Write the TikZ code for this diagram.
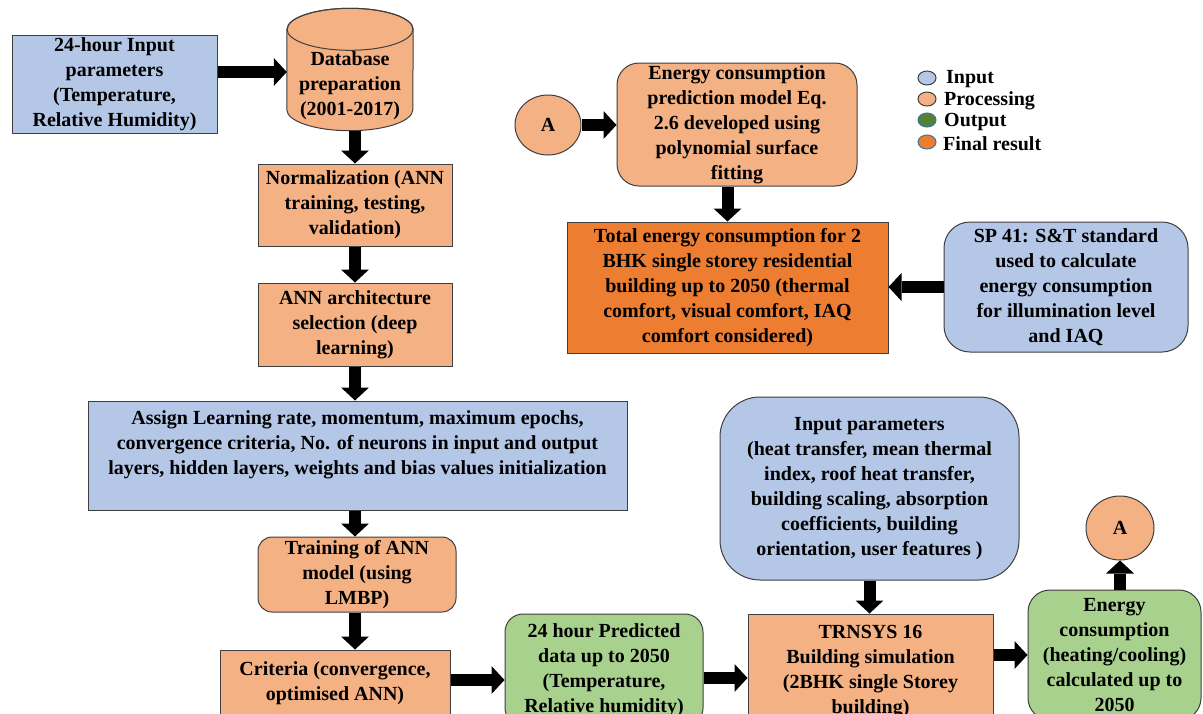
\documentclass[tikz,border=0pt]{standalone}
\usepackage{fontspec}
\setmainfont{Liberation Serif}
\usetikzlibrary{arrows.meta,shapes.geometric}
\definecolor{inblue}{HTML}{B4C7E7}
\definecolor{procpeach}{HTML}{F4B183}
\definecolor{outgreen}{HTML}{A9D18E}
\definecolor{outdark}{HTML}{548235}
\definecolor{finalorange}{HTML}{ED7D31}
\definecolor{edgegray}{HTML}{3F3F3F}
\definecolor{dotedge}{HTML}{41719C}

\begin{document}
\begin{tikzpicture}[x=1pt,y=1pt,
  box/.style={draw=edgegray, line width=1pt, inner sep=0pt, align=center,
    font=\bfseries\fontsize{20}{25}\selectfont},
  inbox/.style={box, fill=inblue},
  procbox/.style={box, fill=procpeach},
  outbox/.style={box, fill=outgreen},
  finbox/.style={box, fill=finalorange},
  connector/.style={ellipse, box, fill=procpeach},
  bigarrow/.style={line width=12pt, -{Triangle[width=28pt,length=13pt,line width=0pt]}},
  legdot/.style={ellipse, draw=edgegray, line width=1pt, minimum width=18pt, minimum height=14pt, inner sep=0pt},
  legtext/.style={anchor=west, inner sep=0pt, font=\bfseries\fontsize{20}{22}\selectfont}
]
\useasboundingbox (0,0) rectangle (1203,-713);
\fill[white] (0,0) rectangle (1203,-713);
\clip (0,0) rectangle (1203,-713);

% ---------- left column: data preparation and ANN ----------
\node[inbox, minimum width=205pt, minimum height=98pt] (inp) at (114.5,-84)
  {24-hour Input\\parameters\\(Temperature,\\Relative Humidity)};

% database drawn as a cylinder around an empty frame node
\node[minimum width=126pt, minimum height=122pt, inner sep=0pt] (db) at (350,-69.5) {};
\filldraw[fill=procpeach, draw=edgegray, line width=1pt]
  (db.north west) ++(0,-21) -- ([yshift=21pt]db.south west)
  arc[start angle=180, end angle=360, x radius=63pt, y radius=21pt]
  -- ([yshift=-21pt]db.north east)
  arc[start angle=0, end angle=180, x radius=63pt, y radius=21pt] -- cycle;
\draw[edgegray, line width=1pt] ([yshift=-21pt]db.north) ellipse [x radius=63pt, y radius=21pt];
\node[align=center, inner sep=0pt, font=\bfseries\fontsize{20}{25}\selectfont] (dbtext) at (350,-86)
  {Database\\preparation\\(2001-2017)};

\node[procbox, minimum width=194pt, minimum height=82pt] (norm) at (355,-205)
  {Normalization (ANN\\training, testing,\\validation)};
\node[procbox, minimum width=194pt, minimum height=83pt] (arch) at (355,-324.5)
  {ANN architecture\\selection (deep\\learning)};
\node[inbox, minimum width=539pt, minimum height=109pt] (assign) at (357.5,-455.5)
  {Assign Learning rate, momentum, maximum epochs,\\convergence criteria, No. of neurons in input and output\\layers, hidden layers, weights and bias values initialization\\~};
\node[procbox, rounded corners=14pt, minimum width=198pt, minimum height=75pt] (train) at (357,-574.5)
  {Training of ANN\\model (using\\LMBP)};
\node[procbox, minimum width=230pt, minimum height=66pt] (crit) at (335,-683)
  {Criteria (convergence,\\optimised ANN)};

% ---------- bottom row: prediction and simulation ----------
\node[outbox, rounded corners=18pt, minimum width=198pt, minimum height=112pt] (pred) at (604,-670)
  {24 hour Predicted\\data up to 2050\\(Temperature,\\Relative humidity)};
\node[procbox, minimum width=245pt, minimum height=116pt] (trn) at (870.5,-672)
  {TRNSYS 16\\Building simulation\\(2BHK single Storey\\building)};
\node[inbox, rounded corners=40pt, minimum width=299pt, minimum height=183pt] (inpar) at (869.5,-488.5)
  {Input parameters\\(heat transfer, mean thermal\\index, roof heat transfer,\\building scaling, absorption\\coefficients, building\\orientation, user features )};
\node[outbox, rounded corners=22pt, minimum width=173pt, minimum height=130pt] (ener) at (1114.5,-655)
  {Energy\\consumption\\(heating/cooling)\\calculated up to\\2050};
\node[connector, minimum width=68pt, minimum height=64pt] (A2) at (1120,-528) {A};

% ---------- top right: energy model ----------
\node[connector, minimum width=66pt, minimum height=60pt] (A1) at (548,-125) {A};
\node[procbox, rounded corners=22pt, minimum width=240pt, minimum height=123pt] (model) at (737,-124.5)
  {Energy consumption\\prediction model Eq.\\2.6 developed using\\polynomial surface\\fitting};
\node[finbox, minimum width=321pt, minimum height=131pt] (total) at (727.5,-287.5)
  {Total energy consumption for 2\\BHK single storey residential\\building up to 2050 (thermal\\comfort, visual comfort, IAQ\\comfort considered)};
\node[inbox, rounded corners=26pt, minimum width=244pt, minimum height=130pt] (sp) at (1066,-287)
  {SP 41: S\&T standard\\used to calculate\\energy consumption\\for illumination level\\and IAQ};

% ---------- legend ----------
\node[legdot, fill=inblue] (lg1) at (927,-78) {};
\node[legdot, fill=procpeach] (lg2) at (927,-99) {};
\node[legdot, fill=outdark, draw=dotedge] (lg3) at (927,-120) {};
\node[legdot, fill=finalorange, draw=dotedge] (lg4) at (927,-142) {};
\node[legtext] (lt1) at (946,-79) {Input};
\node[legtext] (lt2) at (944,-101) {Processing};
\node[legtext] (lt3) at (944,-122) {Output};
\node[legtext] (lt4) at (943,-144) {Final result};

% ---------- connectors ----------
\draw[bigarrow] ([yshift=12pt]inp.east) -- ([yshift=12pt]inp.east -| db.west);
\draw[bigarrow] (db.south -| norm) -- (norm.north);
\draw[bigarrow] (norm.south) -- (arch.north);
\draw[bigarrow] (arch.south) -- (arch.south |- assign.north);
\draw[bigarrow] (arch.south |- assign.south) -- (arch.south |- train.north);
\draw[bigarrow] (arch.south |- train.south) -- (arch.south |- crit.north);
\draw[bigarrow] ([yshift=3pt]crit.east) -- ([yshift=3pt]crit.east -| pred.west);
\draw[bigarrow] ([yshift=-8pt]pred.east) -- ([yshift=-8pt]pred.east -| trn.west);
\draw[bigarrow] (inpar.south) -- (inpar.south |- trn.north);
\draw[bigarrow] (ener.west -| trn.east) -- (ener.west);
\draw[bigarrow] (A2.south |- ener.north) -- (A2.south);
\draw[bigarrow] (A1.east) -- (A1.east -| model.west);
\draw[bigarrow] (total.north |- model.south) -- (total.north);
\draw[bigarrow] (sp.west) -- (sp.west -| total.east);
\end{tikzpicture}
\end{document}
